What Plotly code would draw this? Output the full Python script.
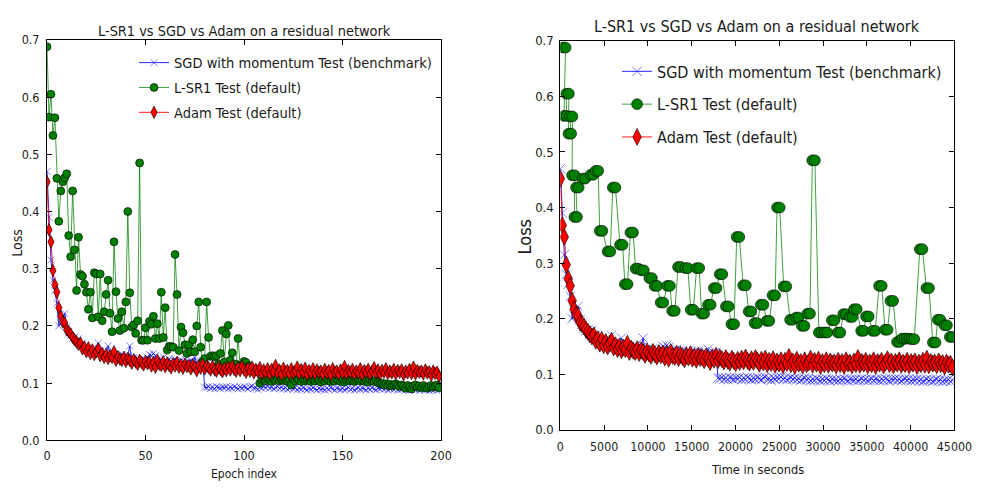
import plotly.graph_objects as go

# ---------------- data ----------------
epochs = list(range(200))

sgd_loss = [
    0.470, 0.390, 0.315, 0.280, 0.262, 0.240, 0.200, 0.205, 0.212, 0.222,
    0.198, 0.190, 0.183, 0.178, 0.180, 0.172, 0.178, 0.165, 0.170, 0.160,
    0.158, 0.155, 0.160, 0.152, 0.155, 0.150, 0.170, 0.155, 0.150, 0.148,
    0.152, 0.165, 0.150, 0.145, 0.148, 0.150, 0.146, 0.145, 0.150, 0.148,
    0.145, 0.148, 0.165, 0.142, 0.145, 0.140, 0.143, 0.140, 0.142, 0.138,
    0.140, 0.145, 0.150, 0.148, 0.152, 0.148, 0.140, 0.138, 0.142, 0.145,
    0.140, 0.138, 0.142, 0.135, 0.140, 0.142, 0.138, 0.136, 0.140, 0.137,
    0.142, 0.135, 0.138, 0.140, 0.133, 0.145, 0.136, 0.130, 0.138, 0.140,
    0.093, 0.092, 0.094, 0.091, 0.093, 0.090, 0.094, 0.092, 0.091, 0.093,
    0.092, 0.094, 0.090, 0.093, 0.091, 0.094, 0.092, 0.090, 0.093, 0.091,
    0.094, 0.092, 0.090, 0.093, 0.095, 0.091, 0.092, 0.089, 0.093, 0.091,
    0.094, 0.092, 0.095, 0.091, 0.093, 0.090, 0.092, 0.094, 0.091, 0.093,
    0.090, 0.092, 0.089, 0.091, 0.093, 0.090, 0.092, 0.088, 0.091, 0.089,
    0.092, 0.090, 0.088, 0.091, 0.089, 0.092, 0.090, 0.088, 0.091, 0.089,
    0.090, 0.088, 0.091, 0.089, 0.092, 0.090, 0.088, 0.091, 0.090, 0.089,
    0.091, 0.088, 0.090, 0.092, 0.089, 0.091, 0.088, 0.090, 0.092, 0.089,
    0.091, 0.090, 0.088, 0.091, 0.089, 0.092, 0.090, 0.088, 0.091, 0.090,
    0.092, 0.089, 0.091, 0.088, 0.090, 0.092, 0.089, 0.091, 0.088, 0.090,
    0.089, 0.091, 0.088, 0.090, 0.087, 0.089, 0.091, 0.088, 0.090, 0.087,
    0.089, 0.091, 0.088, 0.090, 0.087, 0.089, 0.088, 0.090, 0.087, 0.089,
]

lsr1_loss = [
    0.688, 0.565, 0.605, 0.533, 0.564, 0.458, 0.383, 0.436, 0.452, 0.459,
    0.466, 0.358, 0.321, 0.436, 0.333, 0.262, 0.355, 0.290, 0.287, 0.273,
    0.259, 0.229, 0.259, 0.214, 0.293, 0.291, 0.216, 0.291, 0.209, 0.225,
    0.255, 0.280, 0.222, 0.190, 0.347, 0.260, 0.213, 0.192, 0.225, 0.196,
    0.242, 0.400, 0.258, 0.198, 0.202, 0.187, 0.209, 0.485, 0.175, 0.175,
    0.197, 0.175, 0.208, 0.203, 0.217, 0.178, 0.204, 0.178, 0.259, 0.180,
    0.232, 0.158, 0.164, 0.164, 0.163, 0.325, 0.255, 0.157, 0.198, 0.188,
    0.167, 0.152, 0.167, 0.155, 0.176, 0.155, 0.200, 0.242, 0.163, 0.138,
    0.143, 0.242, 0.180, 0.147, 0.148, 0.146, 0.148, 0.133, 0.152, 0.192,
    0.137, 0.186, 0.201, 0.140, 0.153, 0.128, 0.133, 0.178, 0.130, 0.125,
    0.138, 0.136, 0.128, 0.130, 0.125, 0.120, 0.125, 0.120, 0.100, 0.105,
    0.107, 0.104, 0.108, 0.106, 0.103, 0.107, 0.105, 0.108, 0.104, 0.106,
    0.105, 0.108, 0.103, 0.106, 0.097, 0.107, 0.104, 0.108, 0.105, 0.103,
    0.107, 0.104, 0.106, 0.108, 0.103, 0.106, 0.104, 0.107, 0.105, 0.102,
    0.106, 0.104, 0.108, 0.105, 0.103, 0.106, 0.104, 0.107, 0.105, 0.103,
    0.106, 0.102, 0.105, 0.107, 0.104, 0.106, 0.103, 0.105, 0.107, 0.104,
    0.106, 0.103, 0.105, 0.102, 0.106, 0.104, 0.103, 0.105, 0.101, 0.099,
    0.100, 0.097, 0.099, 0.096, 0.098, 0.095, 0.097, 0.099, 0.096, 0.094,
    0.097, 0.095, 0.091, 0.096, 0.093, 0.090, 0.095, 0.097, 0.093, 0.095,
    0.092, 0.096, 0.093, 0.091, 0.094, 0.096, 0.093, 0.095, 0.097, 0.092,
]

adam_loss = [
    0.452, 0.368, 0.347, 0.297, 0.272, 0.259, 0.232, 0.217, 0.207, 0.205,
    0.193, 0.190, 0.186, 0.180, 0.176, 0.172, 0.168, 0.170, 0.160, 0.163,
    0.155, 0.162, 0.152, 0.158, 0.150, 0.155, 0.160, 0.148, 0.152, 0.145,
    0.150, 0.143, 0.148, 0.145, 0.155, 0.140, 0.146, 0.142, 0.140, 0.145,
    0.138, 0.143, 0.140, 0.135, 0.141, 0.137, 0.133, 0.140, 0.136, 0.132,
    0.138, 0.134, 0.137, 0.130, 0.136, 0.128, 0.140, 0.133, 0.131, 0.137,
    0.129, 0.135, 0.131, 0.127, 0.134, 0.130, 0.136, 0.128, 0.132, 0.126,
    0.133, 0.129, 0.131, 0.125, 0.132, 0.128, 0.122, 0.130, 0.126, 0.133,
    0.125, 0.130, 0.127, 0.123, 0.129, 0.124, 0.121, 0.128, 0.124, 0.120,
    0.126, 0.122, 0.128, 0.123, 0.130, 0.124, 0.121, 0.127, 0.122, 0.129,
    0.124, 0.119, 0.126, 0.121, 0.128, 0.118, 0.124, 0.120, 0.127, 0.117,
    0.123, 0.119, 0.125, 0.116, 0.124, 0.120, 0.131, 0.118, 0.123, 0.115,
    0.126, 0.119, 0.122, 0.116, 0.125, 0.118, 0.121, 0.128, 0.117, 0.124,
    0.119, 0.126, 0.115, 0.122, 0.118, 0.125, 0.117, 0.123, 0.119, 0.121,
    0.116, 0.124, 0.118, 0.122, 0.115, 0.125, 0.119, 0.121, 0.116, 0.123,
    0.118, 0.129, 0.117, 0.122, 0.119, 0.124, 0.116, 0.121, 0.118, 0.125,
    0.115, 0.122, 0.119, 0.124, 0.116, 0.121, 0.127, 0.118, 0.123, 0.116,
    0.122, 0.119, 0.125, 0.117, 0.121, 0.118, 0.124, 0.116, 0.122, 0.119,
    0.123, 0.115, 0.121, 0.118, 0.124, 0.117, 0.128, 0.116, 0.122, 0.119,
    0.121, 0.116, 0.123, 0.118, 0.120, 0.114, 0.121, 0.117, 0.119, 0.112,
]

# wall-clock time (s) per epoch for SGD / Adam
sgd_sec_per_epoch = 225
adam_sec_per_epoch = 225

# wall-clock time (s) at which each L-SR1 epoch was logged (right panel)
lsr1_epoch_time_s = [
    300, 410, 670, 930, 1080, 1340, 1600, 1790, 2530, 3460,
    4020, 4500, 5400, 5990, 6810, 7370, 8000, 8600, 9230, 10160,
    10760, 11460, 12210, 12770, 13440, 14260, 14890, 15560, 16120, 16860,
    17530, 18200, 18910, 19540, 20140, 20880, 21510, 22180, 22890, 23560,
    24230, 24750, 25500, 26240, 26910, 27580, 28210, 28770, 29520, 30190,
    31000, 31680, 32310, 33050, 33540, 34350, 34910, 35660, 36400, 37070,
    37700, 38450, 39010, 39570, 40120, 41050, 41800, 42540, 43100, 43850,
    44480,
]
lsr1_log_gap_s = 300  # each L-SR1 value was logged twice, ~300 s apart

y_ticks = [0.0, 0.1, 0.2, 0.3, 0.4, 0.5, 0.6, 0.7]
x_ticks_epoch = [0, 50, 100, 150, 200]
x_ticks_time = [0, 5000, 10000, 15000, 20000, 25000, 30000, 35000, 40000, 45000]

names = ["SGD with momentum Test (benchmark)", "L-SR1 Test (default)", "Adam Test (default)"]

# ---------------- figure ----------------
W, H = 990, 489
FONT = "DejaVu Sans Condensed, DejaVu Sans, sans-serif"
TXT = "#1a1a1a"

sgd_time = [e * sgd_sec_per_epoch for e in epochs]
adam_time = [e * adam_sec_per_epoch for e in epochs]
lsr1_time_r, lsr1_loss_r = [], []
for t, v in zip(lsr1_epoch_time_s, lsr1_loss):
    lsr1_time_r += [t, t + lsr1_log_gap_s]
    lsr1_loss_r += [v, v]

fig = go.Figure()

def add_panel(xa, ya, leg, xs_sgd, xs_lsr1, ys_lsr1, xs_adam, big):
    s = 1.35 if big else 1.0
    fig.add_trace(go.Scatter(
        x=xs_sgd, y=sgd_loss, name=names[0], mode="lines+markers",
        xaxis=xa, yaxis=ya, legend=leg, legendgroup=leg + "a",
        line=dict(color="rgba(0,0,255,0.85)", width=1),
        marker=dict(symbol="x-thin", size=7 * s, color="rgba(0,0,255,0.5)",
                    line=dict(color="rgba(0,0,255,0.5)", width=1)),
    ))
    fig.add_trace(go.Scatter(
        x=xs_lsr1, y=ys_lsr1, name=names[1], mode="lines+markers",
        xaxis=xa, yaxis=ya, legend=leg, legendgroup=leg + "b",
        line=dict(color="rgba(0,128,0,0.75)", width=1),
        marker=dict(symbol="circle", size=8 * s, color="#008000",
                    line=dict(color="black", width=0.6)),
    ))
    fig.add_trace(go.Scatter(
        x=xs_adam, y=adam_loss, name=names[2], mode="lines+markers",
        xaxis=xa, yaxis=ya, legend=leg, legendgroup=leg + "c",
        line=dict(color="rgba(255,0,0,0.9)", width=1),
        marker=dict(symbol="diamond-tall", size=9 * s, color="#ff0000",
                    line=dict(color="black", width=0.6)),
    ))

add_panel("x", "y", "legend", epochs, epochs, lsr1_loss, epochs, False)
add_panel("x2", "y2", "legend2", sgd_time, lsr1_time_r, lsr1_loss_r, adam_time, True)

def ax(domain, rng, tickvals, anchor, size, standoff, fmt=None):
    d = dict(domain=domain, range=rng, tickvals=tickvals, anchor=anchor,
             ticks="inside", ticklen=5, tickwidth=1, tickcolor="black",
             showline=True, linecolor="black", linewidth=1, mirror="ticks",
             showgrid=False, zeroline=False,
             tickfont=dict(family=FONT, size=size, color=TXT),
             ticklabelstandoff=standoff)
    if fmt:
        d["tickformat"] = fmt
    return d

fig.update_layout(
    width=W, height=H, margin=dict(l=0, r=0, t=0, b=0),
    paper_bgcolor="white", plot_bgcolor="white", showlegend=True,
    xaxis=ax([44 / W, 447 / W], [0, 200], x_ticks_epoch, "y", 12.5, 4, "d"),
    yaxis=ax([1 - 447 / H, 1 - 33 / H], [0, 0.7], y_ticks, "x", 12.5, 4, ".1f"),
    xaxis2=ax([569 / W, 972 / W], [0, 45000], x_ticks_time, "y2", 12.3, 6, "d"),
    yaxis2=ax([1 - 436 / H, 1 - 34 / H], [0, 0.7], y_ticks, "x2", 13, 3, ".1f"),
    legend=dict(x=133 / W, y=1 - 40 / H, xanchor="left", yanchor="top",
                bgcolor="rgba(0,0,0,0)", font=dict(family=FONT, size=14.5, color=TXT),
                tracegroupgap=3, itemwidth=30),
    legend2=dict(x=627 / W, y=1 - 48 / H, xanchor="left", yanchor="top",
                 bgcolor="rgba(0,0,0,0)", font=dict(family=FONT, size=16, color=TXT),
                 tracegroupgap=9, itemwidth=30),
)

ann = [
    dict(text="L-SR1 vs SGD vs Adam on a residual network", x=245.5 / W, y=1 - 24 / H, size=14.4),
    dict(text="L-SR1 vs SGD vs Adam on a residual network", x=770.5 / W, y=1 - 19 / H, size=16),
    dict(text="Epoch index", x=245.5 / W, y=1 - 482 / H, size=12),
    dict(text="Time in seconds", x=770.5 / W, y=1 - 477 / H, size=12.7),
]
for a in ann:
    fig.add_annotation(text=a["text"], x=a["x"], y=a["y"], xref="paper", yref="paper",
                       xanchor="center", yanchor="middle", showarrow=False,
                       font=dict(family=FONT, size=a["size"], color=TXT))
fig.add_annotation(text="Loss", x=13 / W, y=1 - 243 / H, xref="paper", yref="paper",
                   xanchor="center", yanchor="middle", showarrow=False, textangle=-90,
                   font=dict(family=FONT, size=14, color=TXT))
fig.add_annotation(text="Loss", x=532 / W, y=1 - 237 / H, xref="paper", yref="paper",
                   xanchor="center", yanchor="middle", showarrow=False, textangle=-90,
                   font=dict(family=FONT, size=18, color=TXT))

fig.write_html("out.html")
